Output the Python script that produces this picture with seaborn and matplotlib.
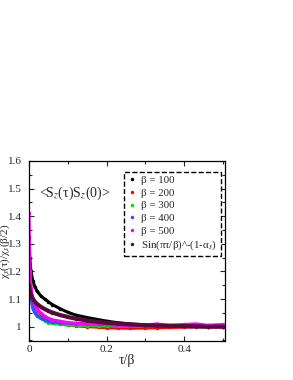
"""Normalised spin correlation <Sz(tau)Sz(0)> for several beta values."""

import matplotlib
matplotlib.use("Agg")
import matplotlib.pyplot as plt
from matplotlib.lines import Line2D
from matplotlib.ticker import MultipleLocator, FuncFormatter
import pandas as pd
import seaborn as sns

tau = [0, 0.002, 0.005, 0.01, 0.015, 0.02, 0.03, 0.04, 0.05, 0.06, 0.08, 0.1,
       0.12, 0.15, 0.18, 0.2, 0.23, 0.26, 0.3, 0.33, 0.36, 0.4, 0.43, 0.46, 0.5]

beta_100 = [1.325, 1.25, 1.2, 1.165, 1.145, 1.13, 1.112, 1.1, 1.09, 1.08, 1.065, 1.052,
            1.042, 1.033, 1.025, 1.02, 1.014, 1.01, 1.006, 1.004, 1.003, 1.002, 1.001, 1.0, 1.0]
beta_200 = [1.28, 1.19, 1.13, 1.09, 1.07, 1.055, 1.04, 1.03, 1.022, 1.017, 1.01, 1.006,
            1.003, 1.0, 0.998, 0.996, 0.995, 0.994, 0.995, 0.996, 0.997, 0.998, 0.999, 1.0, 1.0]
beta_300 = [1.24, 1.16, 1.11, 1.07, 1.055, 1.045, 1.03, 1.022, 1.015, 1.012, 1.008, 1.006,
            1.005, 1.004, 1.003, 1.003, 1.002, 1.002, 1.001, 1.001, 1.002, 1.001, 1.0, 1.0, 1.0]
beta_400 = [1.2, 1.14, 1.1, 1.065, 1.05, 1.04, 1.03, 1.025, 1.02, 1.017, 1.014, 1.012,
            1.011, 1.01, 1.009, 1.008, 1.006, 1.004, 1.003, 1.002, 1.002, 1.001, 1.0, 1.0, 1.0]
beta_500 = [1.41, 1.2, 1.14, 1.1, 1.08, 1.065, 1.05, 1.038, 1.03, 1.025, 1.02, 1.015,
            1.013, 1.01, 1.012, 1.008, 1.005, 1.004, 1.006, 1.01, 1.005, 1.008, 1.01, 1.005, 1.008]
fit = [1.15, 1.13, 1.115, 1.1, 1.09, 1.083, 1.072, 1.064, 1.057, 1.051, 1.042, 1.035,
       1.029, 1.022, 1.017, 1.014, 1.011, 1.008, 1.005, 1.004, 1.003, 1.002, 1.001, 1.0, 1.0]

labels = ["β = 100", "β = 200", "β = 300", "β = 400", "β = 500", "Sin(πτ/β)^-(1-α$_s$)"]
colors = ["black", "red", "#00e000", "#3050ff", "magenta", "#5a0a3a"]
series = [beta_100, beta_200, beta_300, beta_400, beta_500, fit]

sns.set_theme(style="ticks")
plt.rcParams["font.family"] = ["Liberation Serif", "DejaVu Serif"]
plt.rcParams["mathtext.fontset"] = "stix"

fig = plt.figure(figsize=(2.93, 3.80), dpi=100)
ax = fig.add_axes([0.099, 0.1026, 0.669, 0.474])

for vals, col, lab in zip(series, colors, labels):
    df = pd.DataFrame({"tau": tau, "val": vals})
    lw = 3.0 if col == "#5a0a3a" else 2.2
    sns.lineplot(data=df, x="tau", y="val", ax=ax, color=col, linewidth=lw,
                 marker="o", markersize=2.5, markeredgewidth=0, legend=False)

ax.set_xlim(0, 0.505)
ax.set_ylim(0.948, 1.6)
ax.xaxis.set_major_locator(MultipleLocator(0.2))
ax.xaxis.set_minor_locator(MultipleLocator(0.1))
ax.yaxis.set_major_locator(MultipleLocator(0.1))
ax.yaxis.set_minor_locator(MultipleLocator(0.05))
ax.xaxis.set_major_formatter(FuncFormatter(lambda v, p: f"{v:g}"))
ax.yaxis.set_major_formatter(FuncFormatter(lambda v, p: f"{v:g}"))
ax.tick_params(which="both", direction="in", top=True, right=True, labelsize=8,
               width=0.8)
ax.tick_params(axis="y", pad=5)
ax.tick_params(axis="x", pad=3)
ax.tick_params(which="major", length=3.5)
ax.tick_params(which="minor", length=2)
for s in ax.spines.values():
    s.set_linewidth(0.9)
    s.set_color("black")

ax.set_xlabel("τ/β", fontsize=10, labelpad=0)
ax.set_ylabel("χ$_s$(τ)/χ$_s$(β/2)", fontsize=8)
ax.yaxis.set_label_coords(-0.085, 0.5)
ax.text(0.05, 0.80, "<S$_z$(τ)S$_z$(0)>", transform=ax.transAxes, fontsize=10)

handles = [Line2D([], [], linestyle="none", marker="o", markersize=2.5,
                  markeredgewidth=0, color=c) for c in colors]
leg = ax.legend(handles, labels, loc="upper right", bbox_to_anchor=(0.978, 0.94),
                fontsize=7.8, frameon=True, fancybox=False, handlelength=0.8,
                handletextpad=0.45, labelspacing=0.28, borderpad=0.35,
                borderaxespad=0)
frame = leg.get_frame()
frame.set_edgecolor("black")
frame.set_linestyle("--")
frame.set_linewidth(1.0)
frame.set_alpha(1)

fig.savefig("out.png", dpi=100)
